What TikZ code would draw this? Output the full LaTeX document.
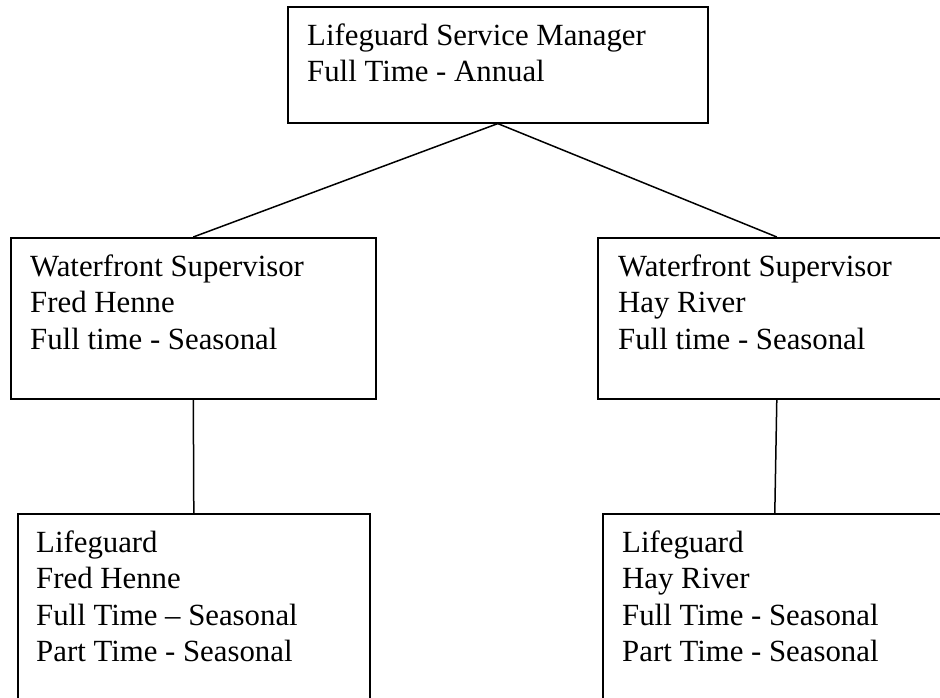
\documentclass[tikz,border=0pt]{standalone}
\usepackage{fontspec}
\setmainfont{Liberation Serif}
\begin{document}
\begin{tikzpicture}[x=1pt,y=-1pt,
  box/.style={draw,line width=1.6pt,rectangle,inner sep=0pt,anchor=north west},
  lbl/.style={inner sep=0pt,anchor=north west,align=left,font=\fontsize{30.8}{36.5}\selectfont},
  link/.style={line width=1.5pt}]
\useasboundingbox (0,0) rectangle (940,698);
\clip (0,0) rectangle (940,698);
% boxes
\node[box,minimum width=420pt,minimum height=116pt] (mgr) at (287,6) {};
\node[box,minimum width=365pt,minimum height=161pt] (wsl) at (10,237) {};
\node[box,minimum width=358pt,minimum height=161pt] (wsr) at (597,237) {};
\node[box,minimum width=352pt,minimum height=220pt] (lgl) at (17,513) {};
\node[box,minimum width=344pt,minimum height=220pt] (lgr) at (602,513) {};
% texts
\node[lbl] (tmgr) at ([shift={(20pt,-17.5pt)}]mgr.north west) {Lifeguard Service Manager\\Full Time - Annual};
\node[lbl] (twsl) at ([shift={(20pt,-17.5pt)}]wsl.north west) {Waterfront Supervisor\\Fred Henne\\Full time - Seasonal};
\node[lbl] (twsr) at ([shift={(21pt,-17.5pt)}]wsr.north west) {Waterfront Supervisor\\Hay River\\Full time - Seasonal};
\node[lbl] (tlgl) at ([shift={(19pt,-17.5pt)}]lgl.north west) {Lifeguard\\Fred Henne\\Full Time – Seasonal\\Part Time - Seasonal};
\node[lbl] (tlgr) at ([shift={(20pt,-17.5pt)}]lgr.north west) {Lifeguard\\Hay River\\Full Time - Seasonal\\Part Time - Seasonal};
% connectors
\draw[link] (mgr.south) -- (wsl.north);
\draw[link] (mgr.south) -- (wsr.north);
\draw[link] (wsl.south) -- (lgl.north);
\draw[link] (wsr.south) -- (lgr.north);
\end{tikzpicture}
\end{document}
